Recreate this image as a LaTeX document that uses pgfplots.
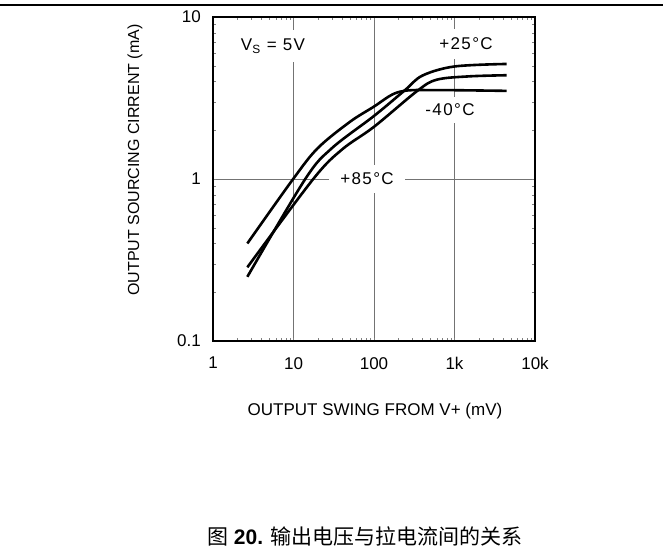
\documentclass[border=0pt]{standalone}
\usepackage{fontspec}
\setmainfont{Liberation Sans}
\newfontfamily\annofont[LetterSpace=8]{Liberation Sans}
\newfontfamily\cjk{Noto Sans CJK SC}
\usepackage{pgfplots}
\pgfplotsset{compat=1.18}
\begin{document}
\begin{tikzpicture}[x=1pt,y=1pt]
\useasboundingbox (0,0) rectangle (663,556);
\draw[line width=1.3pt] (0,551) -- (663,551);
\begin{axis}[
  at={(213pt,215pt)}, anchor=south west,
  scale only axis, width=322pt, height=324pt,
  xmode=log, ymode=log,
  xmin=1, xmax=10000, ymin=0.1, ymax=10,
  xtick={1,10,100,1000,10000}, xticklabels={1,10,100,1k,10k},
  ytick={0.1,1,10}, yticklabels={0.1,1,10},
  minor xtick={}, minor ytick={},
  major tick length=0pt,
  grid=major,
  major grid style={black!55, line width=0.9pt},
  axis line style={line width=1.4pt},
  tick label style={font=\fontsize{17pt}{20pt}\selectfont},
  xticklabel style={anchor=north, inner sep=0pt, yshift=-16pt},
  yticklabel style={anchor=east, inner sep=0pt, xshift=-12pt},
]
\node[fill=white, inner xsep=10pt, inner ysep=9pt, font=\annofont\fontsize{17pt}{20pt}\selectfont] at (axis cs:5.56,6.6) {V\textsubscript{S} = 5V};
\node[fill=white, inner xsep=10pt, inner ysep=9pt, font=\annofont\fontsize{17pt}{20pt}\selectfont] at (axis cs:1390,6.8) {+25°C};
\node[fill=white, inner xsep=10pt, inner ysep=7pt, font=\annofont\fontsize{17pt}{20pt}\selectfont] at (axis cs:879,2.67) {-40°C};
\node[fill=white, inner xsep=11pt, inner ysep=8pt, font=\annofont\fontsize{17pt}{20pt}\selectfont] at (axis cs:81.9,1.0) {+85°C};
% -40 C
\addplot[black, line width=2.6pt, smooth, tension=0.55] coordinates {
 (2.67,0.40) (9.9,1.0) (20,1.55) (50,2.25) (100,2.8) (170,3.33) (260,3.52)
 (500,3.54) (1200,3.53) (4450,3.5)};
% +25 C
\addplot[black, line width=2.6pt, smooth, tension=0.55] coordinates {
 (2.67,0.249) (14,1.0) (30,1.55) (100,2.45) (240,3.52) (400,4.35) (1000,4.95)
 (4450,5.13)};
% +85 C
\addplot[black, line width=2.6pt, smooth, tension=0.55] coordinates {
 (2.67,0.285) (17.6,1.0) (40,1.52) (100,2.1) (345,3.5) (600,4.1) (1500,4.3)
 (4450,4.37)};
\end{axis}
\node[rotate=90, font=\fontsize{16pt}{19pt}\selectfont] at (135,396) {OUTPUT SOURCING CIRRENT (mA)};
\node[font=\fontsize{17pt}{20pt}\selectfont] at (375,145) {OUTPUT SWING FROM V+ (mV)};
\node[anchor=base, inner sep=0pt, font=\fontsize{21pt}{24pt}\selectfont] at (365,11) {\cjk 图\rmfamily\bfseries{} 20. \mdseries\cjk 输出电压与拉电流间的关系};
\end{tikzpicture}
\end{document}
